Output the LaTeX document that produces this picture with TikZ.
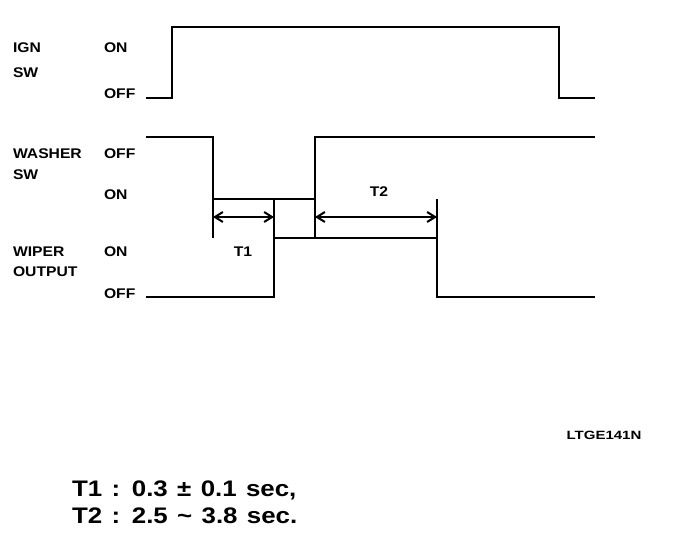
\documentclass[tikz,border=0pt]{standalone}
\usepackage{fontspec}
\setmainfont{Liberation Sans}
\newfontfamily\lblfont[FakeStretch=1.12]{Liberation Sans}
\newfontfamily\tagfont[FakeStretch=1.25]{Liberation Sans}
\newfontfamily\notefont[FakeStretch=1.15, WordSpace=1.3]{Liberation Sans}
\usetikzlibrary{arrows.meta,positioning,calc}

\begin{document}
\begin{tikzpicture}[%
    x=1pt, y=-1pt,              % pixel grid, y runs downwards
    >={Straight Barb[length=8pt,width=10pt]},  % open arrow heads
    line width=2pt
    ]

\tikzset{
    sig/.style={line width=2pt, line join=miter},
    ext/.style={line width=2pt},
    lbl/.style={anchor=west, inner sep=0pt, font={\lblfont\fontsize{14}{14}\selectfont\bfseries}},
    tlbl/.style={inner sep=0pt, font={\lblfont\fontsize{14}{14}\selectfont\bfseries}},
    span/.style={<->, line width=2pt},
    note/.style={anchor=base west, inner sep=0pt, font={\notefont\fontsize{22.5}{22.5}\selectfont\bfseries}},
    tag/.style={inner sep=0pt, font={\tagfont\fontsize{12}{12}\selectfont\bfseries}}
}

\useasboundingbox (0,0) rectangle (688,546);

%% Labels
\node [lbl] (ign) at (12,48) {IGN};
\node [lbl] (ignsw) at (12,73) {SW};
\node [lbl] (ignon) at (103,48) {ON};
\node [lbl] (ignoff) at (103,94) {OFF};

\node [lbl] (wash) at (12,154) {WASHER};
\node [lbl] (washsw) at (12,175) {SW};
\node [lbl] (washoff) at (103,154) {OFF};
\node [lbl] (washon) at (103,195) {ON};

\node [lbl] (wipe) at (12,252) {WIPER};
\node [lbl] (wipeout) at (12,272) {OUTPUT};
\node [lbl] (wipeon) at (103,252) {ON};
\node [lbl] (wipeoff) at (103,294) {OFF};

%% IGN SW
\coordinate (ig0) at (146,98);
\coordinate (ig1) at (172,27);
\coordinate (ig2) at (559,98);
\coordinate (ig3) at (595,98);
    \draw [sig] (ig0) -| (ig1) -| (ig2) -- (ig3);

%% Washer SW
\coordinate (ws0) at (146,137);
\coordinate (ws1) at (213,199);
\coordinate (ws2) at (315,137);
\coordinate (ws3) at (595,137);
    \draw [sig] (ws0) -| (ws1) -| (ws2) -- (ws3);
\coordinate (wsx1) at (213,238);
\coordinate (wsx2) at (315,238);
    \draw [ext] (ws1) -- (wsx1);
    \draw [ext] (315,199) -- (wsx2);

%% Wiper output
\coordinate (wp0) at (146,297);
\coordinate (wp1) at (274,238);
\coordinate (wp2) at (437,297);
\coordinate (wp3) at (595,297);
    \draw [sig] (wp0) -| (wp1) -| (wp2) -- (wp3);
\coordinate (wpx1) at (274,199);
\coordinate (wpx2) at (437,199);
    \draw [ext] (wp1) -- (wpx1);
    \draw [ext] (437,238) -- (wpx2);

%% Times
\coordinate (t1s) at (213,217);
\coordinate (t1e) at (274,217);
\coordinate (t2s) at (315,217);
\coordinate (t2e) at (437,217);
    \draw [span] (t1s) -- (t1e);
    \draw [span] (t2s) -- (t2e);
\node [tlbl] (t1) at (243,252) {T1};
\node [tlbl] (t2) at (379,192) {T2};

%% Notes
\node [tag] (code) at (604,435) {LTGE141N};
\node [note] (n1) at (71,496) {T1 : 0.3 ± 0.1 sec,};
\node [note] (n2) at (71,523) {T2 : 2.5 \textasciitilde{} 3.8 sec.};
\end{tikzpicture}
\end{document}
